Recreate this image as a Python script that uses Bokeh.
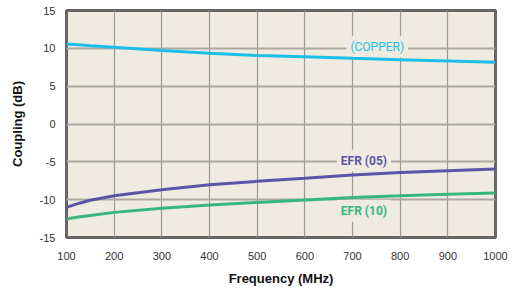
from bokeh.plotting import figure
from bokeh.models import Label, FixedTicker, Range1d, PrintfTickFormatter
from bokeh.embed import file_html
from bokeh.resources import INLINE

freq = [100, 125, 150, 200, 300, 400, 500, 600, 700, 800, 900, 1000]
copper = [10.58, 10.47, 10.35, 10.13, 9.70, 9.34, 9.04, 8.88, 8.68, 8.50, 8.33, 8.17]
efr05 = [-11.02, -10.50, -10.08, -9.47, -8.68, -8.02, -7.58, -7.18, -6.75, -6.42, -6.17, -5.94]
efr10 = [-12.55, -12.30, -12.08, -11.68, -11.15, -10.70, -10.36, -10.05, -9.72, -9.47, -9.28, -9.11]
x_ticks = [100, 200, 300, 400, 500, 600, 700, 800, 900, 1000]
y_ticks = [-15, -10, -5, 0, 5, 10, 15]

BG = "#EFEBE1"
C_COPPER = "#1CBFEA"
C_05 = "#5A55A6"
C_10 = "#36B77B"

p = figure(width=516, height=288, output_backend="svg", toolbar_location=None,
           x_range=Range1d(100, 1000), y_range=Range1d(-15, 15),
           min_border_left=66, min_border_right=21, min_border_top=10, min_border_bottom=51)
p.background_fill_color = BG
p.border_fill_color = "white"
p.outline_line_color = "#666666"
p.outline_line_width = 3

p.xaxis.ticker = FixedTicker(ticks=x_ticks)
p.yaxis.ticker = FixedTicker(ticks=y_ticks)
p.yaxis.formatter = PrintfTickFormatter(format="%d")
p.xaxis.formatter = PrintfTickFormatter(format="%d")
for ax in (p.xaxis[0], p.yaxis[0]):
    ax.axis_line_color = None
    ax.major_tick_line_color = None
    ax.minor_tick_line_color = None
    ax.major_label_text_font = "Liberation Sans"
    ax.major_label_text_font_size = "11px"
    ax.major_label_text_color = "#333333"
    ax.axis_label_text_font = "Liberation Sans"
    ax.axis_label_text_font_size = "13px"
    ax.axis_label_text_font_style = "bold"
    ax.axis_label_text_color = "#111111"
p.yaxis.major_label_standoff = 5
p.xaxis.major_label_standoff = 8
p.xaxis.axis_label = "Frequency (MHz)"
p.yaxis.axis_label = "Coupling (dB)"
p.xaxis.axis_label_standoff = 8
p.yaxis.axis_label_standoff = 12

p.xgrid.ticker = FixedTicker(ticks=x_ticks)
p.ygrid.ticker = FixedTicker(ticks=y_ticks)
p.xgrid.grid_line_color = "#999999"
p.xgrid.grid_line_width = 1.2
p.ygrid.grid_line_color = "#ABA8A2"
p.ygrid.grid_line_width = 1.8

labels = [
    ("(COPPER)", 752, 10.2, C_COPPER, "normal"),
    ("EFR (05)", 724, -4.84, C_05, "bold"),
    ("EFR (10)", 724, -11.45, C_10, "bold"),
]
for txt, lx, ly, col, style in labels:
    p.add_layout(Label(x=lx, y=ly, text=txt, text_align="center", text_baseline="middle",
                       text_color=col, text_font="Roboto",
                       text_font_size="12px", text_font_style=style,
                       background_fill_color=BG, padding=4, level="underlay"))

p.line(freq, efr10, line_color=C_10, line_width=3)
p.line(freq, efr05, line_color=C_05, line_width=3)
p.line(freq, copper, line_color=C_COPPER, line_width=3)

open("out.html", "w").write(file_html(p, INLINE))
